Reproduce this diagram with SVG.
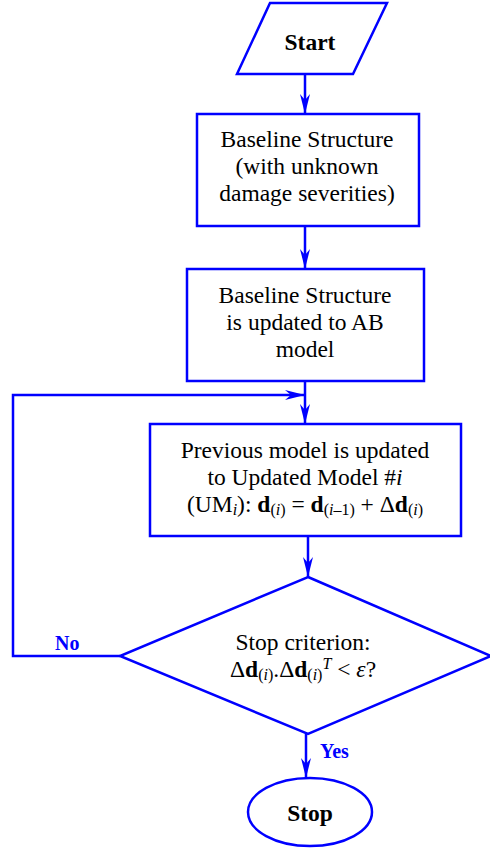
<svg xmlns="http://www.w3.org/2000/svg" width="490" height="851" viewBox="0 0 490 851">
<style>
.shape{fill:#fff;stroke:#0000ff;stroke-width:2.5}
.conn{fill:none;stroke:#0000ff;stroke-width:2.5}
.t{font-family:"Liberation Serif","Times New Roman",serif;font-size:23.5px;fill:#000;text-anchor:middle}
.b{font-weight:bold}
.lbl{font-family:"Liberation Serif","Times New Roman",serif;font-size:20px;font-weight:bold;fill:#0000ff}
.s{font-size:16px}
.it{font-style:italic}
</style>
<defs>
<marker id="arr" markerUnits="userSpaceOnUse" viewBox="0 -5 20 10" refX="20" refY="0" markerWidth="20" markerHeight="10" orient="auto">
<path d="M0,-5 L20,0 L0,5 L6,0 z" fill="#0000ff"/>
</marker>
</defs>
<g id="connectors">
<line class="conn" x1="305" y1="74" x2="305" y2="114" marker-end="url(#arr)"/>
<line class="conn" x1="305" y1="226" x2="305" y2="269" marker-end="url(#arr)"/>
<line class="conn" x1="305" y1="381" x2="305" y2="424" marker-end="url(#arr)"/>
<polyline class="conn" points="120,656 13,656 13,395 305,395" marker-end="url(#arr)"/>
<line class="conn" x1="308" y1="536" x2="308" y2="577" marker-end="url(#arr)"/>
<line class="conn" x1="306" y1="734" x2="306" y2="778" marker-end="url(#arr)"/>
<text class="lbl" x="55" y="650">No</text>
<text class="lbl" x="320" y="758">Yes</text>
</g>
<g id="start">
<polygon class="shape" points="270,3 387,3 353,74 237,74"/>
<text class="t b" x="310" y="50">Start</text>
</g>
<g id="baseline">
<rect class="shape" x="197" y="114" width="222" height="112"/>
<text class="t" x="307" y="147">Baseline Structure</text>
<text class="t" x="307" y="174">(with unknown</text>
<text class="t" x="307" y="201">damage severities)</text>
</g>
<g id="ab">
<rect class="shape" x="187" y="269" width="237" height="112"/>
<text class="t" x="305" y="303">Baseline Structure</text>
<text class="t" x="305" y="330">is updated to AB</text>
<text class="t" x="305" y="357">model</text>
</g>
<g id="update">
<rect class="shape" x="150" y="424" width="311" height="112"/>
<text class="t" x="305" y="458">Previous model is updated</text>
<text class="t" x="305" y="485">to Updated Model #<tspan class="it">i</tspan></text>
<text class="t" x="305" y="512">(UM<tspan class="s it" dy="3">i</tspan><tspan dy="-3">): </tspan><tspan class="b">d</tspan><tspan class="s" dy="3">(<tspan class="it">i</tspan>)</tspan><tspan dy="-3"> = </tspan><tspan class="b">d</tspan><tspan class="s" dy="3">(<tspan class="it">i</tspan>–1)</tspan><tspan dy="-3"> + Δ</tspan><tspan class="b">d</tspan><tspan class="s" dy="3">(<tspan class="it">i</tspan>)</tspan></text>
</g>
<g id="criterion">
<polygon class="shape" points="308,577 491,656 308,734 120,656"/>
<text class="t" x="303" y="650">Stop criterion:</text>
<text class="t" x="303" y="677">Δ<tspan class="b">d</tspan><tspan class="s" dy="3">(<tspan class="it">i</tspan>)</tspan><tspan dy="-3">.Δ</tspan><tspan class="b">d</tspan><tspan class="s" dy="3">(<tspan class="it">i</tspan>)</tspan><tspan class="s it" dy="-11">T</tspan><tspan dy="8"> &lt; </tspan><tspan class="it">ε</tspan>?</text>
</g>
<g id="stop">
<ellipse class="shape" cx="310" cy="812" rx="62" ry="34"/>
<text class="t b" x="310" y="821">Stop</text>
</g>
</svg>
